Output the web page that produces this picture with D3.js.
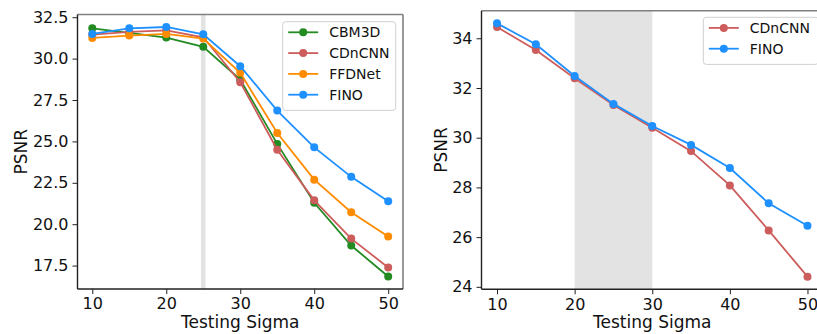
<!DOCTYPE html>
<html>
<head>
<meta charset="utf-8">
<script src="https://cdn.jsdelivr.net/npm/d3@7"></script>
<style>
  body { margin: 0; background: #fff; }
  svg { display: block; font-family: "DejaVu Sans", sans-serif; }
</style>
</head>
<body>
<script>
// data
const sigmas = [10, 15, 20, 25, 30, 35, 40, 45, 50];
// left panel
const cbm3dL = [31.83, 31.55, 31.27, 30.71, 28.73, 24.85, 21.29, 18.71, 16.84];
const cdncnnL = [31.45, 31.61, 31.71, 31.29, 28.57, 24.5, 21.44, 19.13, 17.38];
const ffdnetL = [31.25, 31.39, 31.49, 31.21, 29.14, 25.51, 22.69, 20.72, 19.25];
const finoL = [31.49, 31.83, 31.91, 31.47, 29.54, 26.86, 24.64, 22.86, 21.38];
// right panel
const cdncnnR = [34.45, 33.53, 32.39, 31.32, 30.4, 29.46, 28.08, 26.27, 24.41];
const finoR = [34.6, 33.76, 32.48, 31.36, 30.47, 29.71, 28.78, 27.36, 26.46];
// ticks + bands
const xTicks = [10, 20, 30, 40, 50];
const yTicksL = [17.5, 20, 22.5, 25, 27.5, 30, 32.5];
const yTicksR = [24, 26, 28, 30, 32, 34];
const bandL = [24.7, 25.3];
const bandR = [20, 30];
// ----------

const W = 817;
const H = 334;
const col = {
  CBM3D: "#228B22",
  CDnCNN: "#CD5C5C",
  FFDNet: "#FF8C00",
  FINO: "#1E90FF",
};

const svg = d3
  .select("body")
  .append("svg")
  .attr("width", W)
  .attr("height", H);

// matplotlib style 5% margin
const padExt = (arrs) => {
  const all = arrs.flat();
  const lo = d3.min(all);
  const hi = d3.max(all);
  const m = (hi - lo) * 0.05;
  return [lo - m, hi + m];
};

const drawPanel = (cfg) => {
  const { box, series, yTicks, yFmt, band, legend, ylabOff } = cfg;
  const x = d3.scaleLinear().domain([8, 52]).range([box.l, box.r]);
  const y = d3
    .scaleLinear()
    .domain(padExt(series.map((s) => s.vals)))
    .range([box.b, box.t]);

  const g = svg.append("g");

  // shaded band
  g.append("rect")
    .attr("x", x(band[0]))
    .attr("y", box.t)
    .attr("width", x(band[1]) - x(band[0]))
    .attr("height", box.b - box.t)
    .attr("fill", "#e3e3e3");

  // lines + markers
  const line = d3
    .line()
    .x((d, i) => x(sigmas[i]))
    .y((d) => y(d));

  series.forEach((s) => {
    g.append("path")
      .attr("d", line(s.vals))
      .attr("fill", "none")
      .attr("stroke", col[s.name])
      .attr("stroke-width", 1.8);
    g.append("g")
      .selectAll("circle")
      .data(s.vals)
      .enter()
      .append("circle")
      .attr("cx", (d, i) => x(sigmas[i]))
      .attr("cy", (d) => y(d))
      .attr("r", 4)
      .attr("fill", col[s.name]);
  });

  // axes
  const xAx = g
    .append("g")
    .attr("transform", `translate(0, ${box.b})`)
    .call(d3.axisBottom(x).tickValues(xTicks).tickSize(5).tickPadding(4));
  const yAx = g
    .append("g")
    .attr("transform", `translate(${box.l}, 0)`)
    .call(
      d3.axisLeft(y).tickValues(yTicks).tickFormat(d3.format(yFmt)).tickSize(5).tickPadding(4)
    );
  [xAx, yAx].forEach((a) => {
    a.select(".domain").remove();
    a.selectAll("text")
      .attr("font-size", 16)
      .attr("fill", "#111")
      .attr("font-family", "DejaVu Sans");
    a.selectAll("line").attr("stroke", "#222");
  });

  // spines
  g.append("line")
    .attr("x1", box.l).attr("x2", box.r)
    .attr("y1", box.t).attr("y2", box.t)
    .attr("stroke", "#808080").attr("stroke-width", 1.6);
  g.append("line")
    .attr("x1", box.r).attr("x2", box.r)
    .attr("y1", box.t).attr("y2", box.b)
    .attr("stroke", "#808080").attr("stroke-width", 1.6);
  g.append("line")
    .attr("x1", box.l).attr("x2", box.r)
    .attr("y1", box.b).attr("y2", box.b)
    .attr("stroke", "#222").attr("stroke-width", 1.4);
  g.append("line")
    .attr("x1", box.l).attr("x2", box.l)
    .attr("y1", box.t).attr("y2", box.b)
    .attr("stroke", "#222").attr("stroke-width", 1.4);

  // axis labels
  g.append("text")
    .text("Testing Sigma")
    .attr("x", (box.l + box.r) / 2)
    .attr("y", 328)
    .attr("text-anchor", "middle")
    .attr("font-size", 17)
    .attr("fill", "#111");
  g.append("text")
    .text("PSNR")
    .attr("transform", `translate(${box.l - ylabOff}, ${(box.t + box.b) / 2}) rotate(-90)`)
    .attr("text-anchor", "middle")
    .attr("font-size", 17)
    .attr("fill", "#111");

  // legend
  const lg = g.append("g").attr("transform", `translate(${legend.x}, ${legend.y})`);
  lg.append("rect")
    .attr("width", legend.w)
    .attr("height", series.length * 20.8 + 5.5)
    .attr("rx", 3)
    .attr("fill", "#fff")
    .attr("fill-opacity", 0.85)
    .attr("stroke", "#d0d0d0");
  series.forEach((s, i) => {
    const cy = 10.6 + i * 20.8;
    lg.append("line")
      .attr("x1", 5.5).attr("x2", 35.5)
      .attr("y1", cy).attr("y2", cy)
      .attr("stroke", col[s.name])
      .attr("stroke-width", 1.8);
    lg.append("circle")
      .attr("cx", 20.5).attr("cy", cy).attr("r", 4)
      .attr("fill", col[s.name]);
    lg.append("text")
      .text(s.name)
      .attr("x", 46.5)
      .attr("y", cy + 5)
      .attr("font-size", 14)
      .attr("fill", "#111");
  });
}; // END drawPanel

drawPanel({
  box: { l: 77.5, r: 403, t: 14.5, b: 289 },
  series: [
    { name: "CBM3D", vals: cbm3dL },
    { name: "CDnCNN", vals: cdncnnL },
    { name: "FFDNet", vals: ffdnetL },
    { name: "FINO", vals: finoL },
  ],
  yTicks: yTicksL,
  yFmt: ".1f",
  band: bandL,
  legend: { x: 282.7, y: 21.7, w: 113 },
  ylabOff: 51,
});

drawPanel({
  box: { l: 481.5, r: 823, t: 10.7, b: 289.3 },
  series: [
    { name: "CDnCNN", vals: cdncnnR },
    { name: "FINO", vals: finoR },
  ],
  yTicks: yTicksR,
  yFmt: "d",
  band: bandR,
  legend: { x: 703.3, y: 17.3, w: 115 },
  ylabOff: 35,
});
</script>
</body>
</html>
